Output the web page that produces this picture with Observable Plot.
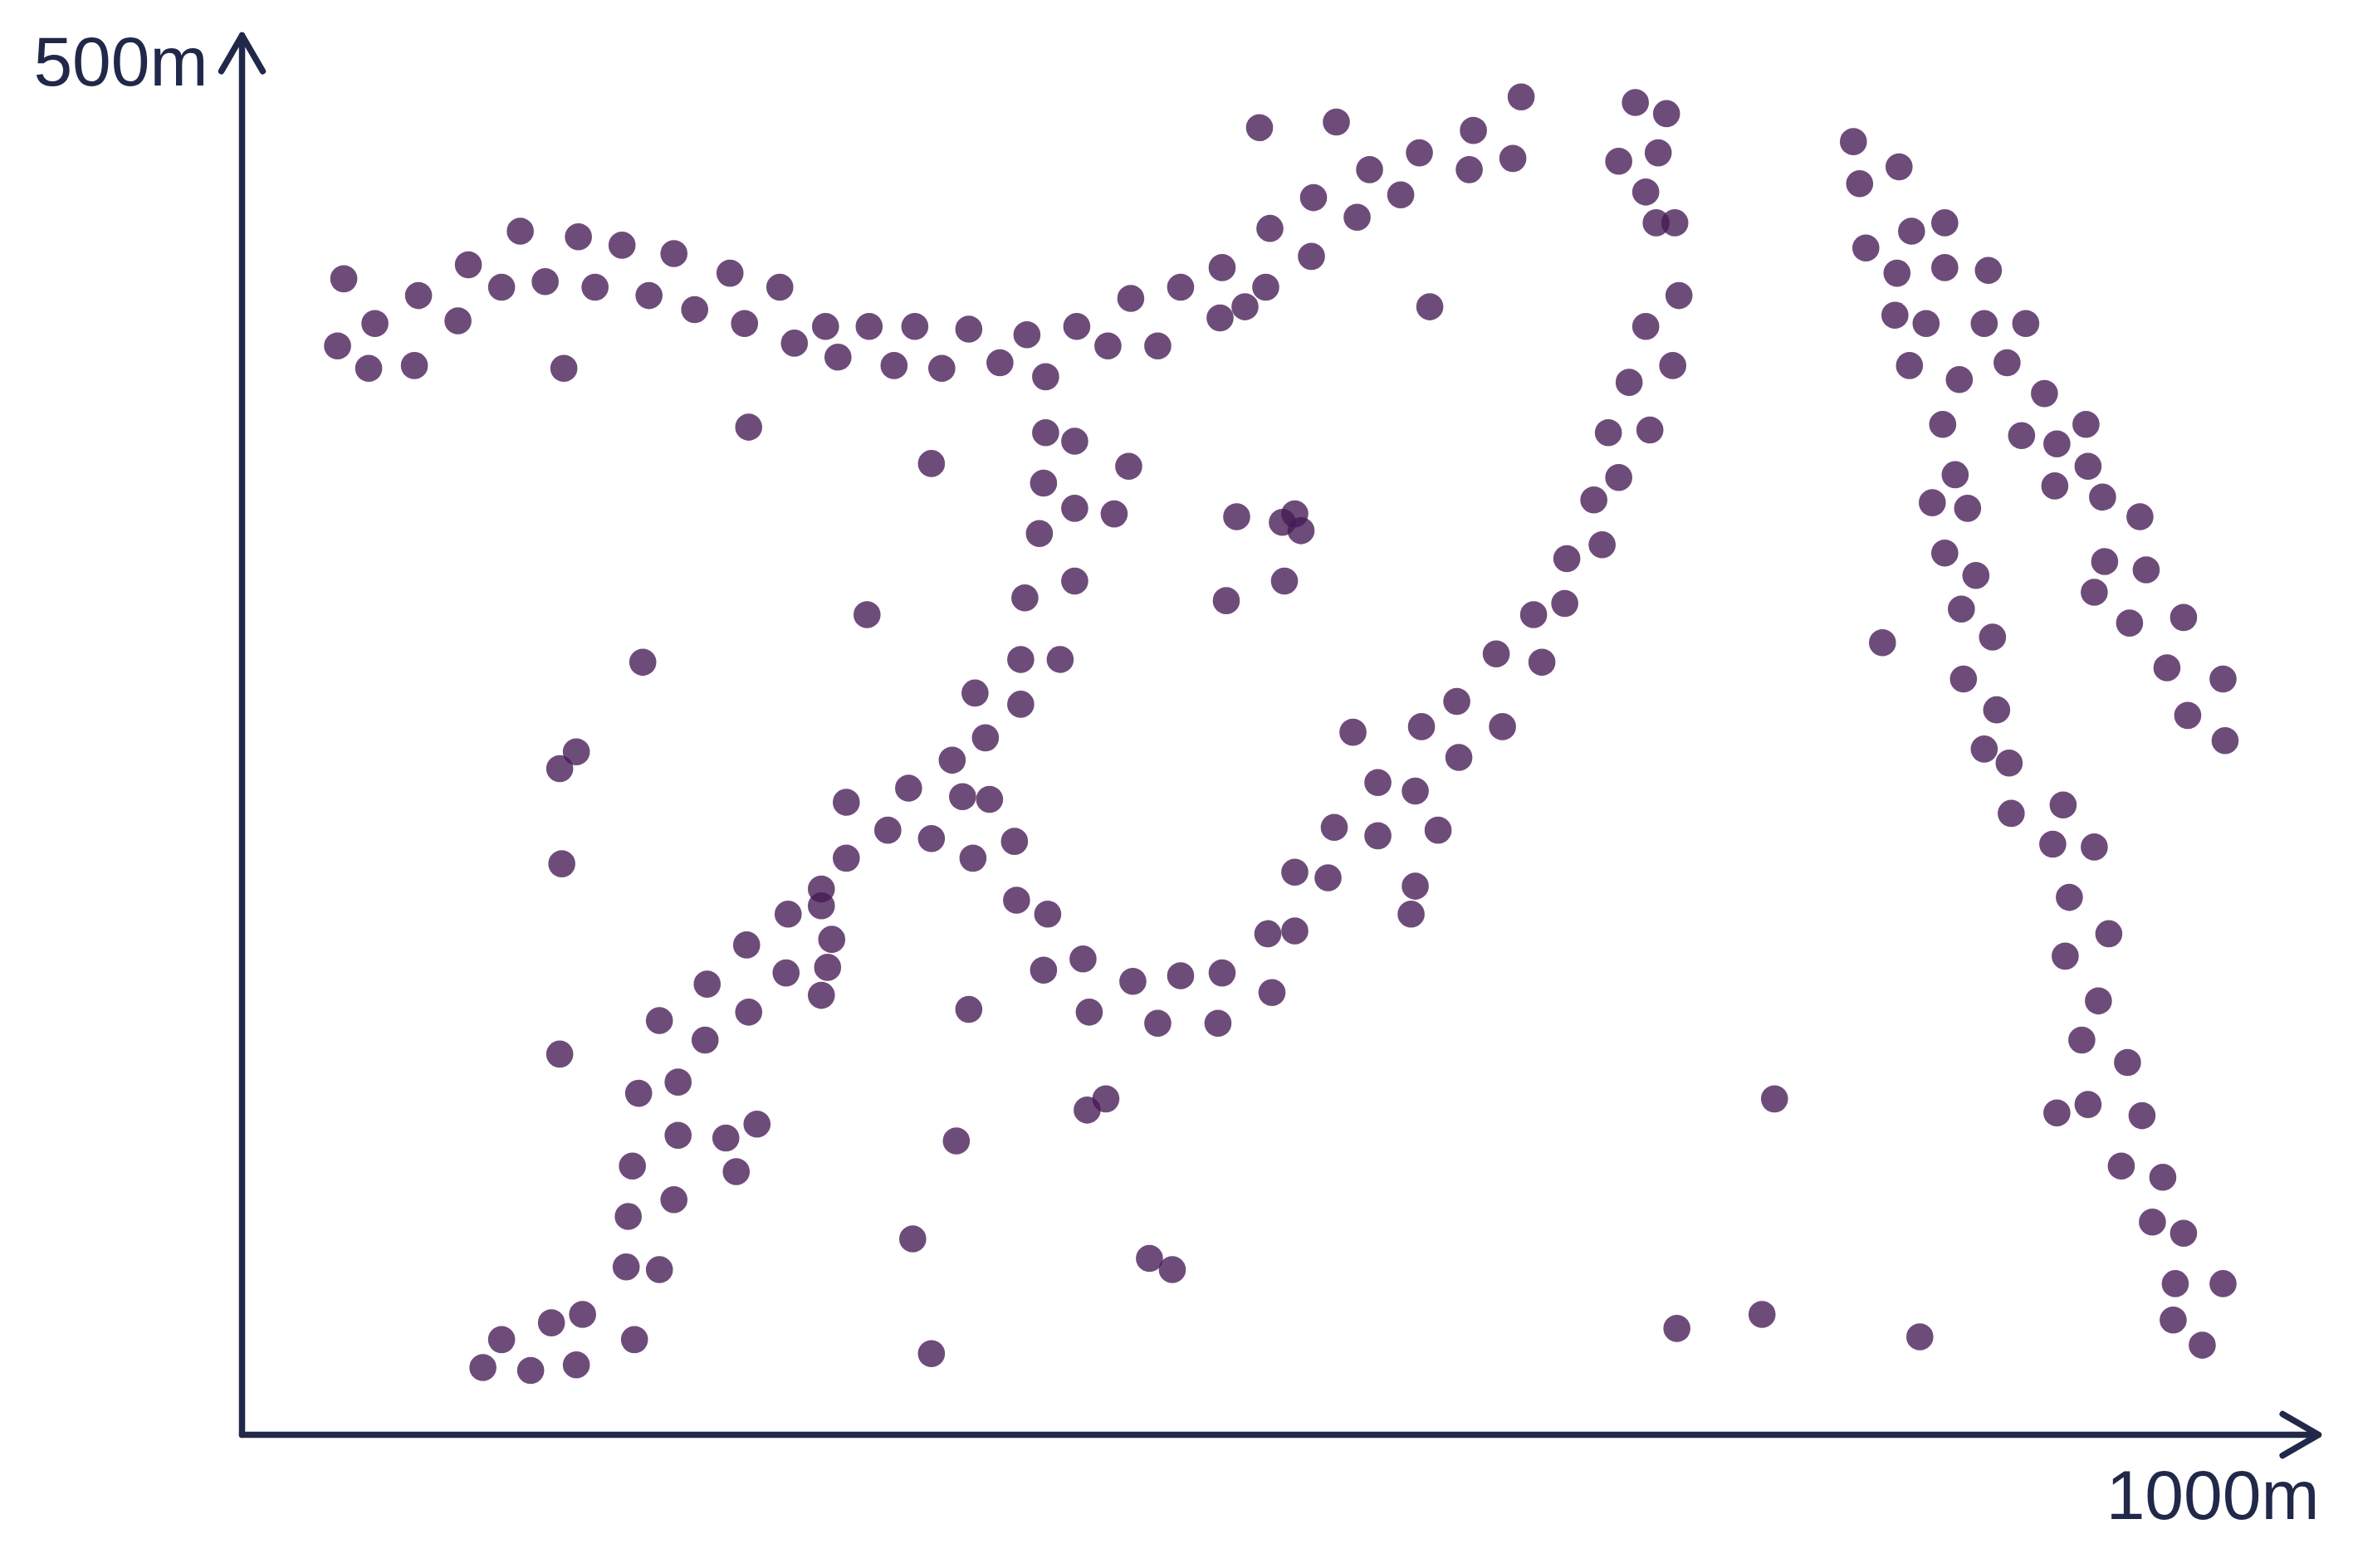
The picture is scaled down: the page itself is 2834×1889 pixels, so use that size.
<!DOCTYPE html>
<html>
<head>
<meta charset="utf-8">
<script src="https://cdn.jsdelivr.net/npm/d3@7"></script>
<script src="https://cdn.jsdelivr.net/npm/@observablehq/plot@0.6"></script>
<style>
  body { margin: 0; background: #fff; }
</style>
</head>
<body>
<div id="chart"></div>
<script>
// positions in metres
const topRidgeX = [49, 46, 64, 61, 85, 83, 109, 104, 125, 134, 146, 155, 162, 170, 183, 196, 208, 218, 235, 242,
  259, 266, 281, 287, 302, 314, 324, 337, 350, 365, 378, 387, 402, 417, 428, 441, 452, 471, 472, 483,
  493, 495, 490, 515, 516, 527, 537, 543, 558, 567, 572, 591, 593, 612, 616]
const topRidgeY = [413, 389, 397, 381, 407, 382, 418, 398, 410, 430, 412, 381, 428, 410, 425, 407, 422, 402, 415, 397,
  410, 390, 396, 385, 396, 382, 396, 381, 395, 383, 393, 378, 396, 389, 406, 389, 410, 399, 417, 403,
  410, 431, 467, 421, 442, 469, 435, 452, 443, 458, 403, 452, 466, 456, 478]

const arcX = [671, 686, 663, 682, 676, 681, 690, 692, 676, 689, 668, 658, 678, 663, 651, 655, 638, 637, 622, 626,
  604, 607, 585, 586, 568, 565, 576, 535, 547, 547, 526, 523, 507, 507, 565, 563, 494, 496, 472, 470,
  452, 441, 429, 408, 405, 386]
const arcY = [476, 472, 455, 458, 444, 433, 433, 407, 396, 382, 376, 358, 359, 342, 334, 318, 313, 297, 293, 276,
  279, 253, 262, 242, 253, 230, 216, 251, 233, 214, 217, 199, 201, 180, 196, 186, 179, 158, 165, 147,
  164, 147, 162, 151, 170, 166]

const columnX = [388, 373, 372, 352, 360, 347, 342, 358, 353, 375, 375, 394, 377, 401, 384, 401, 386, 401, 387, 427, 420]
const columnY = [186, 191, 212, 206, 227, 228, 241, 249, 265, 261, 277, 277, 299, 305, 322, 331, 340, 355, 358, 346, 329]

const diagonalX = [321, 311, 332, 291, 291, 279, 279, 263, 284, 282, 279, 262, 243, 224, 244, 201, 223, 210, 191, 210,
  233, 248, 238, 188, 208, 186, 185, 201, 189, 164, 149, 125, 116, 139, 161]
const diagonalY = [231, 216, 213, 226, 206, 195, 189, 186, 177, 167, 157, 165, 175, 161, 151, 148, 141, 126, 122, 107,
  106, 111, 94, 96, 84, 78, 60, 59, 34, 43, 40, 34, 24, 23, 25]

const strayX = [332, 244, 301, 193, 161, 153, 154, 153, 479, 501, 507, 510, 502, 474,
  350, 344, 323, 332, 407, 416, 437, 448, 738, 691, 732, 808]
const strayY = [347, 360, 293, 276, 244, 238, 204, 136, 328, 326, 329, 323, 305, 298,
  152, 105, 70, 29, 116, 120, 63, 59, 120, 38, 43, 35]

const rightBandsX = [776, 779, 798, 782, 804, 820, 797, 820, 841, 796, 811, 839, 859, 803, 827, 850, 868, 819, 857, 874,
  888, 825, 873, 889, 814, 831, 896, 914, 820, 835, 897, 917, 892, 828, 909, 935, 843, 790, 829, 927,
  954, 845, 937, 955, 839, 851, 852, 877, 872, 892, 880, 878, 899, 894, 886, 908, 874, 889, 915, 905,
  925, 920, 935, 931, 954, 930, 944]
const rightBandsY = [462, 447, 453, 424, 430, 433, 415, 417, 416, 400, 397, 397, 397, 382, 377, 383, 372, 361, 357, 354,
  361, 343, 339, 346, 333, 331, 335, 328, 315, 307, 312, 309, 301, 295, 290, 292, 285, 283, 270, 274,
  270, 259, 257, 248, 245, 240, 222, 225, 211, 210, 192, 171, 179, 155, 141, 133, 115, 118, 114, 96,
  92, 76, 72, 54, 54, 41, 32]

const xs = [...topRidgeX, ...arcX, ...columnX, ...diagonalX, ...strayX, ...rightBandsX]
const ys = [...topRidgeY, ...arcY, ...columnY, ...diagonalY, ...strayY, ...rightBandsY]
const points = xs.map((x, i) => ({x: x, y: ys[i]}))

const axisLines = [
  {x1: 0, y1: 0, x2: 0, y2: 500},
  {x1: 0, y1: 0, x2: 1000, y2: 0}
]

const ink = '#212849'

const chart = Plot.plot({
  width: 2834,
  height: 1889,
  marginLeft: 291,
  marginRight: 42,
  marginTop: 42,
  marginBottom: 161,
  style: {background: '#fff'},
  x: {domain: [0, 1000], axis: null},
  y: {domain: [0, 500], axis: null},
  marks: [
    Plot.dot(points, {
      x: 'x',
      y: 'y',
      r: 16.3,
      fill: '#451a54',
      fillOpacity: 0.78,
      stroke: 'none'
    }),
    Plot.arrow(axisLines, {
      x1: 'x1', y1: 'y1', x2: 'x2', y2: 'y2',
      stroke: ink,
      strokeWidth: 7.5,
      headLength: 10,
      headAngle: 60,
      strokeLinecap: 'round',
      strokeLinejoin: 'round'
    }),
    Plot.text(['500m'], {
      x: 0, y: 500, text: d => d,
      textAnchor: 'end', lineAnchor: 'bottom',
      dx: -41, dy: 60,
      fontSize: 84, fontFamily: 'Liberation Sans, Arial, sans-serif',
      fill: ink
    }),
    Plot.text(['1000m'], {
      x: 1000, y: 0, text: d => d,
      textAnchor: 'end', lineAnchor: 'bottom',
      dx: 1, dy: 101,
      fontSize: 84, fontFamily: 'Liberation Sans, Arial, sans-serif',
      fill: ink
    })
  ]
})
d3.select('#chart').append(() => chart)
</script>
</body>
</html>
